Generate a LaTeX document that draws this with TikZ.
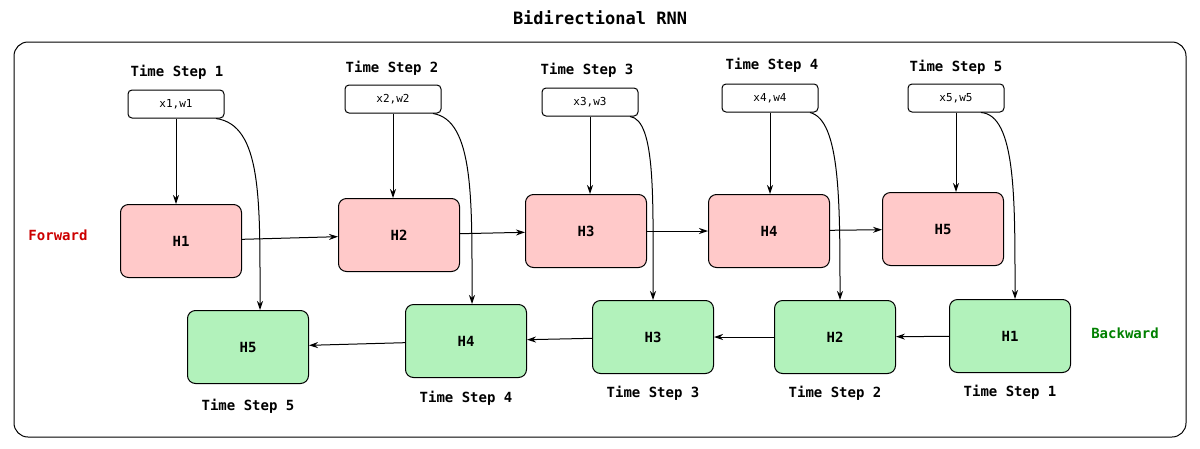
\documentclass[tikz,border=0pt]{standalone}
\usepackage{fontspec}
\setmainfont{DejaVu Sans Mono}
\usetikzlibrary{arrows.meta}
\definecolor{fr}{HTML}{FFC9C9}
\definecolor{bg}{HTML}{B2F2BB}
\begin{document}
\begin{tikzpicture}[x=1pt,y=-1pt,
  box/.style={draw,rounded corners=8pt,line width=1pt,minimum width=121pt,minimum height=73pt,font=\bfseries\fontsize{14}{16}\selectfont},
  inp/.style={draw,rounded corners=4pt,line width=1pt,minimum width=96pt,minimum height=28pt,font=\fontsize{11}{13}\selectfont},
  lab/.style={font=\bfseries\fontsize{14}{16}\selectfont},
  ar/.style={-{Stealth[length=9pt,width=6pt]},line width=1pt}]
\useasboundingbox (0,0) rectangle (1200,448);
\node[font=\bfseries\fontsize{17}{20}\selectfont] (title) at (600,18) {Bidirectional RNN};
\draw[rounded corners=14pt,line width=1pt] (14,42) rectangle (1186,437);
% inputs
\foreach \i/\x/\y/\tx/\ty in {1/176/104/177/72,2/393/99/392/68,3/590/102/587/70,4/770/98/772/65,5/956/98/956/67}{
  \node[inp] (x\i) at (\x,\y) {x\i,w\i};
  \node[lab] (ts\i) at (\tx,\ty) {Time Step \i};
}
% forward
\foreach \i/\x/\y in {1/181/241,2/399/235,3/586/231,4/769/231,5/943/229}{
  \node[box,fill=fr] (f\i) at (\x,\y) {H\i};
}
% backward
\foreach \i/\x/\y/\ty in {5/248/347/406,4/466/341/398,3/653/337/393,2/835/337/393,1/1010/336/392}{
  \node[box,fill=bg] (b\i) at (\x,\y) {H\i};
  \node[lab] (bt\i) at (\x,\ty) {Time Step \i};
}
\node[lab,text=red!80!black] (fw) at (58,235) {Forward};
\node[lab,text=green!50!black] (bw) at (1125,333) {Backward};
% input to forward
\foreach \i in {1,...,5}{ \draw[ar] (x\i.south) -- (x\i.south |- f\i.north); }
% input to backward curves
\draw[ar] ([xshift=40pt]x1.south) .. controls (262,125) and (260,200) .. ([xshift=12pt]b5.north);
\draw[ar] ([xshift=40pt]x2.south) .. controls (474,120) and (472,200) .. ([xshift=6pt]b4.north);
\draw[ar] ([xshift=40pt]x3.south) .. controls (656,120) and (653,200) .. (b3.north);
\draw[ar] ([xshift=40pt]x4.south) .. controls (840,120) and (840,200) .. ([xshift=5pt]b2.north);
\draw[ar] ([xshift=25pt]x5.south) .. controls (1016,115) and (1015,200) .. ([xshift=5pt]b1.north);
% chains
\draw[ar] (f1) -- (f2); \draw[ar] (f2) -- (f3); \draw[ar] (f3) -- (f4); \draw[ar] (f4) -- (f5);
\draw[ar] (b1) -- (b2); \draw[ar] (b2) -- (b3); \draw[ar] (b3) -- (b4); \draw[ar] (b4) -- (b5);
\end{tikzpicture}
\end{document}
